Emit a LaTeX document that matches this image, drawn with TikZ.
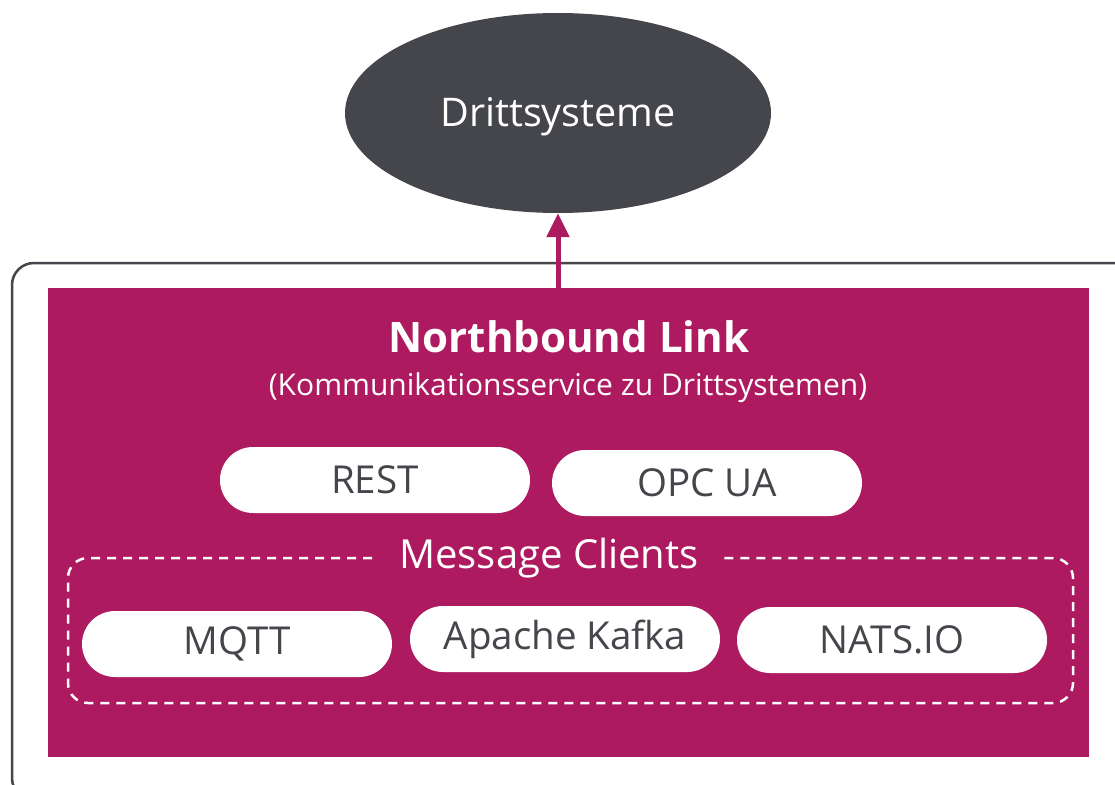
\documentclass[tikz,border=0pt]{standalone}
\usepackage{fontspec}
\setmainfont{Open Sans}
\usetikzlibrary{shapes.geometric,arrows.meta}
\definecolor{mag}{HTML}{AE1A5F}
\definecolor{dgray}{HTML}{45464B}
\tikzset{
  pill/.style={fill=white, rounded corners=33pt, minimum width=310pt, minimum height=66pt, text=dgray, font=\fontsize{38.5}{42}\selectfont, inner sep=0pt},
}
\begin{document}
\begin{tikzpicture}[x=1pt,y=-1pt]
\useasboundingbox (0,0) rectangle (1115,784);
\draw[dgray, line width=2.5pt, rounded corners=22pt] (12,263) rectangle (1135,800);
\fill[mag] (48,288) rectangle (1089,757);
\node[ellipse, fill=dgray, minimum width=426pt, minimum height=200pt] (dritt) at (558,113) {};
\node[text=white, font=\fontsize{39.5}{44}\selectfont] (drittlabel) at (558,117) {Drittsysteme};
\coordinate (src) at (558,288);
\draw[mag, line width=5pt, -{Triangle[width=22pt,length=24pt]}] (src) -- (dritt.south);
\node[text=white, font=\bfseries\fontsize{42}{46}\selectfont] (title) at (569,337) {Northbound Link};
\node[text=white, font=\fontsize{30}{34}\selectfont] (sub) at (568,388) {(Kommunikationsservice zu Drittsystemen)};
\node[pill] (rest) at (375,480) {REST};
\node[pill] (opc) at (707,483) {OPC UA};
\draw[white, line width=2.5pt, dash pattern=on 9pt off 7pt, rounded corners=20pt] (372,558) -- (68,558) -- (68,703) -- (1073,703) -- (1073,558) -- (722,558);
\node[text=white, font=\fontsize{40}{44}\selectfont] (mc) at (549,558) {Message Clients};
\node[pill] (mqtt) at (237,644) {MQTT};
\node[pill] (kafka) at (565,639) {Apache Kafka};
\node[pill] (nats) at (892,640) {NATS.IO};
\end{tikzpicture}
\end{document}
